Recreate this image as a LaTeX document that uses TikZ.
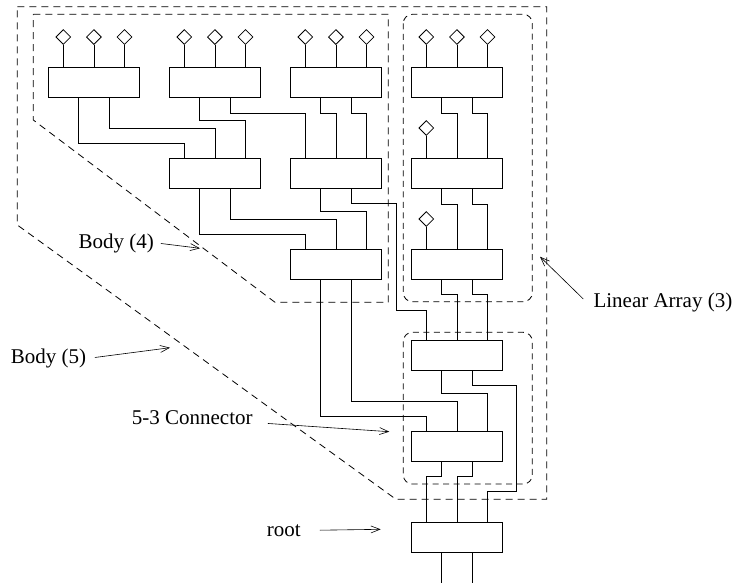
\documentclass[tikz,border=0pt]{standalone}
\usepackage{fontspec}
\setmainfont{Liberation Serif}
\usetikzlibrary{calc,shapes.geometric,arrows.meta}
\newcommand\mkbox[3]{%
  \node[blk] (#1) at (#2,#3) {};
  \coordinate (#1-i1) at ($(#1.north west)!1/6!(#1.north east)$);
  \coordinate (#1-i2) at ($(#1.north west)!1/2!(#1.north east)$);
  \coordinate (#1-i3) at ($(#1.north west)!5/6!(#1.north east)$);
  \coordinate (#1-o1) at ($(#1.south west)!1/3!(#1.south east)$);
  \coordinate (#1-o2) at ($(#1.south west)!2/3!(#1.south east)$);
}
\newcommand\mkpin[1]{%
  \node[pinhead] (#1-d) at ($(#1)+(0,-30)$) {};
  \draw[wire] (#1-d) -- (#1);
}
\begin{document}
\begin{tikzpicture}[x=1pt,y=-1pt,
  blk/.style={draw,line width=0.8pt,rectangle,anchor=north west,inner sep=0pt,minimum width=91pt,minimum height=30pt},
  pinhead/.style={draw,line width=0.8pt,shape=diamond,inner sep=0pt,minimum width=15pt,minimum height=15pt},
  wire/.style={line width=0.8pt},
  grp/.style={line width=0.8pt,dash pattern=on 7pt off 5pt},
  lgrp/.style={line width=0.8pt,dash pattern=on 6pt off 4.5pt,rounded corners=9pt},
  lbl/.style={font=\fontsize{21}{25}\selectfont,inner sep=0pt,anchor=base west},
  arr/.style={line width=0.6pt,-{Straight Barb[length=9pt,width=7pt]}}]
\useasboundingbox (0,0) rectangle (736,582);

% dashed groups
\draw[grp] (17.3,6.7) -- (546.7,6.7) -- (546.7,499.3) -- (396,499.3) -- (17.3,225) -- cycle;
\draw[grp] (33.3,14.3) -- (388.3,14.3) -- (388.3,302.3) -- (275,302.3) -- (33.3,120) -- cycle;
\draw[lgrp] (403.3,14.3) rectangle (532.3,301.7);
\draw[lgrp] (403.3,332.3) rectangle (532.3,484);

% boxes
\mkbox{A1}{48}{67}
\mkbox{A2}{169}{67}
\mkbox{A3}{290}{67}
\mkbox{L1}{411}{67}
\mkbox{B1}{169}{158}
\mkbox{B2}{290}{158}
\mkbox{L2}{411}{158}
\mkbox{C}{290}{249}
\mkbox{L3}{411}{249}
\mkbox{K1}{411}{340}
\mkbox{K2}{411}{431}
\mkbox{R}{411}{522}

% input pins with diamonds
\mkpin{A1-i1}\mkpin{A1-i2}\mkpin{A1-i3}
\mkpin{A2-i1}\mkpin{A2-i2}\mkpin{A2-i3}
\mkpin{A3-i1}\mkpin{A3-i2}\mkpin{A3-i3}
\mkpin{L1-i1}\mkpin{L1-i2}\mkpin{L1-i3}
\mkpin{L2-i1}
\mkpin{L3-i1}

% wires
\draw[wire] (A1-o1) -- ++(0,46) -| (B1-i1);
\draw[wire] (A1-o2) -- ++(0,30.5) -| (B1-i2);
\draw[wire] (A2-o1) -- ++(0,23) -| (B1-i3);
\draw[wire] (A2-o2) -- ++(0,15.5) -| (B2-i1);
\draw[wire] (A3-o1) -- ++(0,15.5) -| (B2-i2);
\draw[wire] (A3-o2) -- ++(0,15.5) -| (B2-i3);
\draw[wire] (L1-o1) -- ++(0,15.5) -| (L2-i2);
\draw[wire] (L1-o2) -- ++(0,15.5) -| (L2-i3);

\draw[wire] (B1-o1) -- ++(0,46) -| (C-i1);
\draw[wire] (B1-o2) -- ++(0,31) -| (C-i2);
\draw[wire] (B2-o1) -- ++(0,23) -| (C-i3);
\draw[wire] (B2-o2) -- ++(0,15) -| (396,310) -| (K1-i1);
\draw[wire] (L2-o1) -- ++(0,15.5) -| (L3-i2);
\draw[wire] (L2-o2) -- ++(0,15.5) -| (L3-i3);

\draw[wire] (L3-o1) -- ++(0,15) -| (K1-i2);
\draw[wire] (L3-o2) -- ++(0,15) -| (K1-i3);
\draw[wire] (C-o1) -- ++(0,137) -| (K2-i1);
\draw[wire] (C-o2) -- ++(0,122) -| (K2-i2);

\draw[wire] (K1-o1) -- ++(0,23) -| (K2-i3);
\draw[wire] (K1-o2) -- ++(0,15) -| (516.7,491.7) -| (R-i3);
\draw[wire] (K2-o1) -- ++(0,15) -| (R-i1);
\draw[wire] (K2-o2) -- ++(0,15) -| (R-i2);

\coordinate (out1) at ($(R-o1)+(0,31)$);
\coordinate (out2) at ($(R-o2)+(0,31)$);
\draw[wire] (R-o1) -- (out1);
\draw[wire] (R-o2) -- (out2);

% labels
\node[lbl] (lb4) at (78.3,248.5) {Body (4)};
\node[lbl] (lb5) at (10.7,363.5) {Body (5)};
\node[lbl] (lcon) at (131.7,424.3) {5-3 Connector};
\node[lbl] (lroot) at (266.7,536.5) {root};
\node[lbl] (llin) at (593.3,307) {Linear Array (3)};

\coordinate (t4) at (200,248.3);
\coordinate (t5) at (170,347.7);
\coordinate (tcon) at (389.3,431.7);
\coordinate (troot) at (380.7,529.3);
\coordinate (tlin) at (540,256.7);
\draw[arr] ([shift={(7,0)}]lb4.east) -- (t4);
\draw[arr] ([shift={(8.5,-1)}]lb5.east) -- (t5);
\draw[arr] ([shift={(15,6)}]lcon.east) -- (tcon);
\draw[arr] ([shift={(19,-0.5)}]lroot.east) -- (troot);
\draw[arr] ([shift={(-10,-3)}]llin.west) -- (tlin);
\end{tikzpicture}
\end{document}
